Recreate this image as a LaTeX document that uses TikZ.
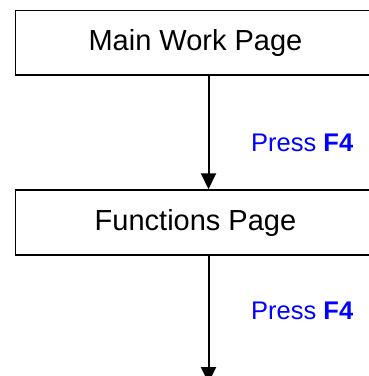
\documentclass[tikz,border=0pt]{standalone}
\usepackage{fontspec}
\setmainfont{Liberation Sans}
\usetikzlibrary{arrows.meta}
\begin{document}
\begin{tikzpicture}[x=1pt,y=-1pt,
  pagebox/.style={draw=black,line width=1.5pt,minimum width=360pt,inner sep=0pt,
    font=\fontsize{29}{32}\selectfont},
  arr/.style={line width=2pt,-{Triangle[length=16pt,width=15pt]}},
  lbl/.style={text=blue,anchor=west,inner sep=0pt,font=\fontsize{25.5}{28}\selectfont}]
\useasboundingbox (0,0) rectangle (369,376);
\node[pagebox,minimum height=64.5pt] (b1) at (195.5,42.75) {Main Work Page};
\node[pagebox,minimum height=65pt] (b2) at (195.5,222.5) {Functions Page};
\coordinate (ax) at (208.5,0);
\coordinate (e) at (208.5,383);
\draw[arr] (b1.south -| ax) -- (b2.north -| ax);
\draw[arr] (b2.south -| ax) -- (e);
\node[lbl] (l1) at (251,143) {Press \textbf{F4}};
\node[lbl] (l2) at (251,310.5) {Press \textbf{F4}};
\end{tikzpicture}
\end{document}
